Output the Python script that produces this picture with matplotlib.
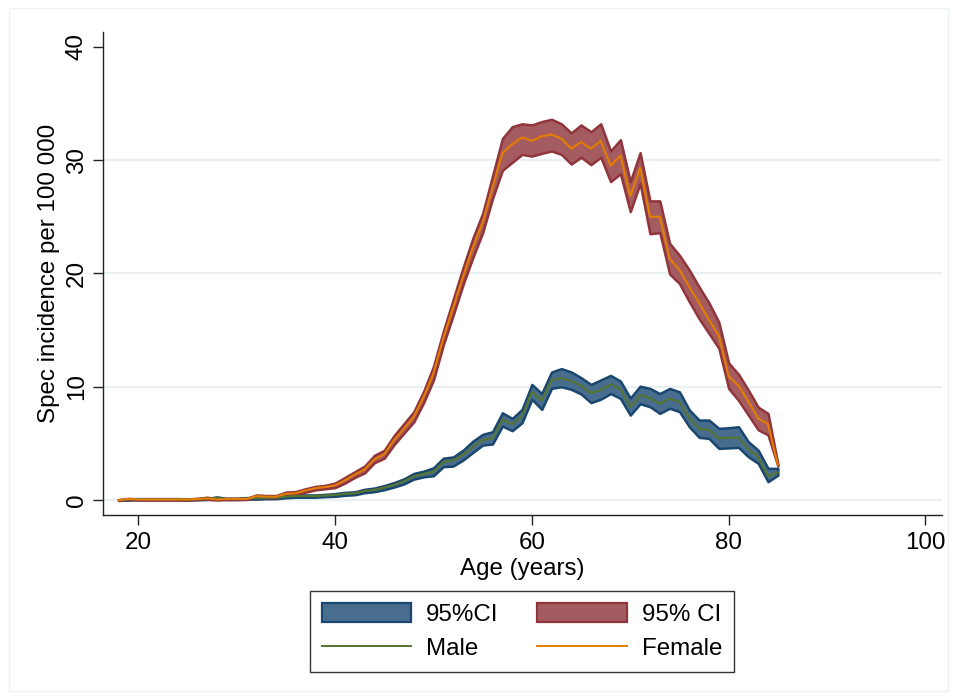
import matplotlib
matplotlib.use("Agg")
import matplotlib.pyplot as plt
from matplotlib.patches import Patch, Rectangle
from matplotlib.lines import Line2D

plt.rcParams['font.family'] = ['Liberation Sans', 'DejaVu Sans']

age = list(range(18, 86))

# incidence per 100 000, men
male = [0.00, 0.05, 0.08, 0.08, 0.08, 0.08, 0.08, 0.05, 0.08, 0.10,
        0.20, 0.10, 0.10, 0.15, 0.15, 0.20, 0.20, 0.30, 0.35, 0.35,
        0.35, 0.40, 0.45, 0.55, 0.60, 0.80, 0.90, 1.10, 1.35, 1.65,
        2.10, 2.30, 2.50, 3.35, 3.50, 4.00, 4.70, 5.30, 5.45, 7.10,
        6.70, 7.40, 9.55, 8.80, 10.60, 10.75, 10.50, 10.10, 9.45, 9.70,
        10.20, 9.80, 8.20, 9.25, 9.00, 8.50, 8.95, 8.65, 7.25, 6.30,
        6.20, 5.45, 5.50, 5.50, 4.50, 3.80, 2.10, 2.45]
male_lo = [-0.03, 0.00, 0.03, 0.03, 0.03, 0.03, 0.03, 0.00, 0.03, 0.05,
           0.12, 0.05, 0.05, 0.08, 0.08, 0.12, 0.12, 0.20, 0.25, 0.25,
           0.25, 0.30, 0.33, 0.42, 0.47, 0.65, 0.74, 0.92, 1.15, 1.43,
           1.85, 2.05, 2.15, 2.95, 3.00, 3.53, 4.20, 4.85, 4.95, 6.53,
           6.12, 6.83, 8.90, 8.00, 9.86, 10.00, 9.77, 9.36, 8.60, 8.90,
           9.40, 8.97, 7.50, 8.50, 8.24, 7.65, 8.10, 7.80, 6.47, 5.53,
           5.44, 4.56, 4.60, 4.65, 3.82, 3.24, 1.62, 2.20]
male_hi = [0.03, 0.10, 0.13, 0.13, 0.13, 0.13, 0.13, 0.10, 0.13, 0.15,
           0.28, 0.15, 0.15, 0.22, 0.22, 0.28, 0.28, 0.40, 0.45, 0.45,
           0.45, 0.50, 0.57, 0.68, 0.73, 0.95, 1.06, 1.28, 1.55, 1.87,
           2.35, 2.55, 2.85, 3.70, 3.80, 4.40, 5.20, 5.80, 6.03, 7.70,
           7.20, 8.00, 10.20, 9.40, 11.30, 11.60, 11.30, 10.80, 10.20, 10.60,
           11.00, 10.50, 9.00, 10.05, 9.85, 9.40, 9.85, 9.55, 7.95, 7.06,
           7.06, 6.33, 6.38, 6.47, 5.15, 4.40, 2.80, 2.80]

# incidence per 100 000, women
female = [0.00, 0.10, 0.05, 0.05, 0.05, 0.05, 0.05, 0.05, 0.10, 0.15,
          0.05, 0.10, 0.10, 0.10, 0.35, 0.30, 0.30, 0.55, 0.60, 0.85,
          1.05, 1.15, 1.30, 1.75, 2.25, 2.70, 3.60, 4.05, 5.30, 6.30,
          7.35, 9.10, 11.20, 14.30, 17.00, 19.70, 22.30, 24.50, 27.60, 30.60,
          31.40, 32.00, 31.70, 32.10, 32.25, 31.90, 31.00, 31.60, 31.00, 31.70,
          29.50, 30.40, 26.80, 29.30, 25.00, 25.00, 21.30, 20.30, 18.80, 17.40,
          15.90, 14.50, 10.90, 10.10, 8.70, 7.20, 6.70, 3.10]
female_lo = [-0.03, 0.05, 0.00, 0.00, 0.00, 0.00, 0.00, 0.00, 0.05, 0.07,
             0.00, 0.05, 0.05, 0.05, 0.25, 0.20, 0.20, 0.45, 0.47, 0.70,
             0.90, 1.00, 1.10, 1.50, 2.00, 2.40, 3.30, 3.70, 4.90, 5.90,
             6.90, 8.60, 10.60, 13.70, 16.30, 19.00, 21.40, 23.60, 26.60, 29.10,
             29.80, 30.50, 30.35, 30.60, 30.80, 30.50, 29.65, 30.25, 29.60, 30.25,
             28.10, 28.80, 25.45, 27.95, 23.50, 23.60, 19.95, 19.10, 17.50, 16.00,
             14.70, 13.40, 9.85, 8.80, 7.50, 6.20, 5.75, 3.00]
female_hi = [0.03, 0.15, 0.10, 0.10, 0.10, 0.10, 0.10, 0.10, 0.15, 0.25,
             0.10, 0.15, 0.15, 0.15, 0.45, 0.40, 0.40, 0.70, 0.75, 1.00,
             1.20, 1.30, 1.50, 2.00, 2.50, 3.00, 3.95, 4.40, 5.70, 6.75,
             7.80, 9.60, 11.80, 14.90, 17.70, 20.50, 23.10, 25.30, 28.60, 31.90,
             32.95, 33.20, 33.10, 33.40, 33.60, 33.20, 32.40, 33.10, 32.50, 33.20,
             30.80, 31.80, 28.10, 30.65, 26.40, 26.40, 22.65, 21.60, 20.30, 18.80,
             17.40, 15.70, 12.10, 11.10, 9.70, 8.20, 7.65, 3.20]

navy = '#1a476f'
maroon = '#90353b'
green = '#55752f'
orange = '#e37e00'
navy_fill = '#486d8e'
maroon_fill = '#a55c61'

fig = plt.figure(figsize=(9.57, 6.99), dpi=100)
fig.patches.append(Rectangle((0.009, 0.012), 0.982, 0.976, transform=fig.transFigure,
                             fill=False, edgecolor='#eef3f4', lw=1.0))
ax = fig.add_axes([0.1076, 0.2632, 0.8767, 0.691])

for g in [0, 10, 20, 30]:
    ax.axhline(g, color='#eaf0f2', lw=1.6, zorder=0)

ax.fill_between(age, male_lo, male_hi, facecolor=navy_fill, edgecolor=navy,
                lw=1.8, zorder=2)
ax.fill_between(age, female_lo, female_hi, facecolor=maroon_fill, edgecolor=maroon,
                lw=1.8, zorder=2)
ax.plot(age, male, color=green, lw=1.5, zorder=3)
ax.plot(age, female, color=orange, lw=1.5, zorder=3)

ax.set_xlim(16.41, 101.68)
ax.set_ylim(-1.32, 41.3)
ax.set_xticks([20, 40, 60, 80, 100])
ax.set_yticks([0, 10, 20, 30, 40])
for lab in ax.get_yticklabels():
    lab.set_rotation(90)
    lab.set_va('center')
ax.tick_params(axis='both', direction='out', length=7, width=1.0,
               colors='#222222', labelsize=17.4, labelcolor='black')
ax.tick_params(axis='y', pad=4)
ax.tick_params(axis='x', pad=5)
for s in ['top', 'right']:
    ax.spines[s].set_visible(False)
for s in ['left', 'bottom']:
    ax.spines[s].set_color('#222222')
    ax.spines[s].set_linewidth(1.0)

ax.set_xlabel("Age (years)", fontsize=17.4)
ax.set_ylabel("Spec incidence per 100 000", fontsize=17.4)
ax.xaxis.set_label_coords(0.5, -0.088)
ax.yaxis.set_label_coords(-0.0513, 0.5)

handles = [Patch(facecolor=navy_fill, edgecolor=navy, lw=1.6),
           Line2D([], [], color=green, lw=1.4),
           Patch(facecolor=maroon_fill, edgecolor=maroon, lw=1.6),
           Line2D([], [], color=orange, lw=1.4)]
labels = ["95%CI", "Male", "95% CI", "Female"]
leg = fig.legend(handles, labels, ncol=2, loc='center',
                 bbox_to_anchor=(0.5455, 0.0966), fontsize=17.4,
                 frameon=True, fancybox=False, edgecolor='black',
                 handlelength=3.7, handleheight=0.87, handletextpad=0.62,
                 columnspacing=1.6, borderpad=0.5, labelspacing=0.45)
leg.get_frame().set_linewidth(1.0)

fig.savefig("out.png", dpi=100, facecolor='white')
